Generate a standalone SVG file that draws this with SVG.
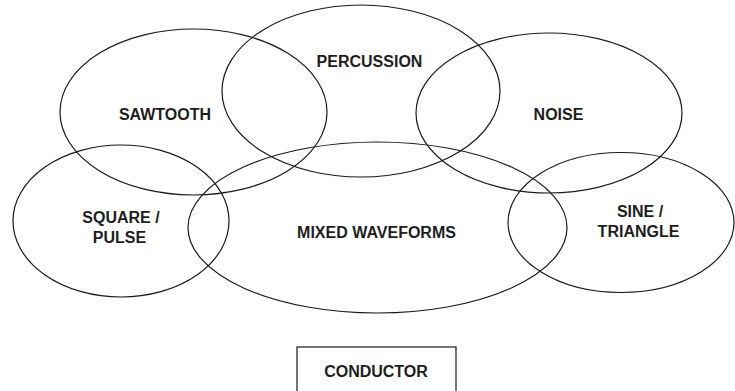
<svg xmlns="http://www.w3.org/2000/svg" width="735" height="391" viewBox="0 0 735 391">
<style>
.e{fill:none;stroke:#1a1a1a;stroke-width:1.2}
.t{font-family:"Liberation Sans",Arial,sans-serif;font-weight:bold;font-size:16px;fill:#1e1e1e;text-anchor:middle}
</style>
<rect width="735" height="391" fill="#fff"/>
<g id="sawtooth"><ellipse class="e" cx="193.5" cy="112" rx="133.5" ry="83"/><text class="t" x="165" y="120">SAWTOOTH</text></g>
<g id="percussion"><ellipse class="e" cx="361" cy="91" rx="139" ry="86"/><text class="t" x="369.5" y="67">PERCUSSION</text></g>
<g id="noise"><ellipse class="e" cx="549" cy="113" rx="133" ry="80"/><text class="t" x="558.5" y="120">NOISE</text></g>
<g id="square"><ellipse class="e" cx="121" cy="221" rx="108" ry="76"/><text class="t" x="121" y="223">SQUARE /</text><text class="t" x="119.5" y="243">PULSE</text></g>
<g id="mixed"><ellipse class="e" cx="377.5" cy="227.5" rx="189.5" ry="85.5"/><text class="t" x="376.5" y="238">MIXED WAVEFORMS</text></g>
<g id="sine"><ellipse class="e" cx="621" cy="222.5" rx="113" ry="70"/><text class="t" x="640" y="217">SINE /</text><text class="t" x="638.5" y="237">TRIANGLE</text></g>
<g id="conductor"><rect class="e" x="297" y="347" width="159" height="50"/><text class="t" x="376" y="377">CONDUCTOR</text></g>
<g id="connectors"></g>
</svg>
